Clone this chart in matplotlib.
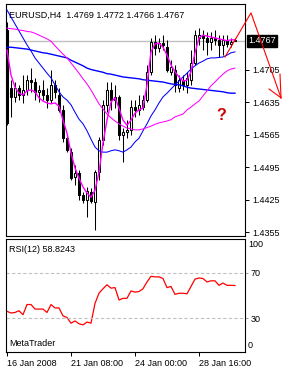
import matplotlib
matplotlib.use("Agg")
import matplotlib.pyplot as plt
import matplotlib.transforms as mtransforms
import numpy as np

plt.rcParams['font.family'] = ['Liberation Sans', 'DejaVu Sans']

# ---- data (H4 bars) ----
title = "EURUSD,H4  1.4769 1.4772 1.4766 1.4767"
last_price = 1.4767

opens = [1.4790, 1.4665, 1.4646, 1.4665, 1.4650, 1.4661, 1.4682, 1.4678, 1.4657, 1.4661,
         1.4650, 1.4639, 1.4672, 1.4650, 1.4618, 1.4557, 1.4527, 1.4473, 1.4482, 1.4435,
         1.4424, 1.4441, 1.4420, 1.4484, 1.4553, 1.4629, 1.4661, 1.4639, 1.4646, 1.4564,
         1.4570, 1.4575, 1.4624, 1.4618, 1.4624, 1.4639, 1.4700, 1.4764, 1.4751, 1.4762,
         1.4753, 1.4700, 1.4704, 1.4665, 1.4682, 1.4672, 1.4682, 1.4719, 1.4773, 1.4779,
         1.4773, 1.4764, 1.4773, 1.4769, 1.4758, 1.4769, 1.4760, 1.4769]
highs = [1.4807, 1.4682, 1.4678, 1.4672, 1.4693, 1.4693, 1.4708, 1.4687, 1.4672, 1.4682,
         1.4665, 1.4704, 1.4682, 1.4665, 1.4629, 1.4564, 1.4536, 1.4499, 1.4489, 1.4441,
         1.4452, 1.4450, 1.4489, 1.4560, 1.4639, 1.4678, 1.4678, 1.4672, 1.4650, 1.4579,
         1.4596, 1.4639, 1.4639, 1.4650, 1.4650, 1.4715, 1.4773, 1.4779, 1.4773, 1.4779,
         1.4769, 1.4725, 1.4715, 1.4693, 1.4693, 1.4700, 1.4747, 1.4790, 1.4794, 1.4790,
         1.4786, 1.4786, 1.4790, 1.4779, 1.4779, 1.4779, 1.4773, 1.4772]
lows = [1.4585, 1.4603, 1.4635, 1.4639, 1.4633, 1.4650, 1.4657, 1.4639, 1.4635, 1.4639,
        1.4622, 1.4633, 1.4644, 1.4613, 1.4549, 1.4527, 1.4467, 1.4456, 1.4424, 1.4417,
        1.4387, 1.4417, 1.4359, 1.4467, 1.4542, 1.4613, 1.4618, 1.4622, 1.4553, 1.4506,
        1.4557, 1.4564, 1.4603, 1.4607, 1.4618, 1.4635, 1.4693, 1.4736, 1.4743, 1.4747,
        1.4700, 1.4693, 1.4657, 1.4657, 1.4661, 1.4654, 1.4672, 1.4715, 1.4758, 1.4747,
        1.4736, 1.4747, 1.4758, 1.4732, 1.4736, 1.4753, 1.4753, 1.4766]
closes = [1.4590, 1.4646, 1.4665, 1.4650, 1.4661, 1.4682, 1.4678, 1.4657, 1.4661, 1.4650,
          1.4639, 1.4672, 1.4657, 1.4618, 1.4557, 1.4532, 1.4471, 1.4482, 1.4435, 1.4424,
          1.4443, 1.4422, 1.4484, 1.4553, 1.4629, 1.4661, 1.4639, 1.4646, 1.4564, 1.4570,
          1.4575, 1.4624, 1.4618, 1.4629, 1.4639, 1.4700, 1.4764, 1.4751, 1.4762, 1.4758,
          1.4704, 1.4710, 1.4672, 1.4682, 1.4672, 1.4687, 1.4719, 1.4779, 1.4779, 1.4773,
          1.4764, 1.4773, 1.4769, 1.4758, 1.4769, 1.4760, 1.4764, 1.4767]

ma_fast = [1.4747, 1.4693, 1.4667, 1.4654, 1.4650, 1.4659, 1.4661, 1.4657, 1.4644, 1.4637,
           1.4633, 1.4631, 1.4633, 1.4626, 1.4596, 1.4568, 1.4525, 1.4493, 1.4471, 1.4452,
           1.4439, 1.4430, 1.4445, 1.4484, 1.4547, 1.4596, 1.4635, 1.4644, 1.4622, 1.4596,
           1.4585, 1.4596, 1.4611, 1.4618, 1.4622, 1.4672, 1.4743, 1.4760, 1.4762, 1.4753,
           1.4736, 1.4715, 1.4700, 1.4689, 1.4680, 1.4682, 1.4700, 1.4741, 1.4773, 1.4779,
           1.4777, 1.4775, 1.4773, 1.4771, 1.4769, 1.4767, 1.4769, 1.4769]
ma_slow = [1.4794, 1.4793, 1.4792, 1.4790, 1.4789, 1.4787, 1.4786, 1.4783, 1.4779, 1.4775,
           1.4771, 1.4766, 1.4756, 1.4747, 1.4738, 1.4730, 1.4719, 1.4708, 1.4697, 1.4685,
           1.4674, 1.4661, 1.4646, 1.4631, 1.4620, 1.4609, 1.4601, 1.4594, 1.4588, 1.4583,
           1.4579, 1.4577, 1.4575, 1.4575, 1.4577, 1.4580, 1.4583, 1.4587, 1.4590, 1.4592,
           1.4594, 1.4597, 1.4603, 1.4606, 1.4609, 1.4618, 1.4624, 1.4631, 1.4637, 1.4648,
           1.4659, 1.4670, 1.4678, 1.4687, 1.4695, 1.4702, 1.4706, 1.4708]
ma_mid = [1.4833, 1.4818, 1.4803, 1.4788, 1.4773, 1.4758, 1.4745, 1.4730, 1.4719, 1.4708,
          1.4697, 1.4687, 1.4672, 1.4657, 1.4646, 1.4639, 1.4629, 1.4613, 1.4598, 1.4588,
          1.4573, 1.4555, 1.4538, 1.4530, 1.4527, 1.4527, 1.4530, 1.4532, 1.4530, 1.4527,
          1.4532, 1.4538, 1.4549, 1.4557, 1.4573, 1.4588, 1.4605, 1.4618, 1.4633, 1.4646,
          1.4654, 1.4663, 1.4672, 1.4680, 1.4689, 1.4697, 1.4706, 1.4713, 1.4719, 1.4723,
          1.4728, 1.4730, 1.4730, 1.4731, 1.4732, 1.4736, 1.4741, 1.4743]
ma_long = [1.4753, 1.4753, 1.4752, 1.4751, 1.4750, 1.4749, 1.4747, 1.4745, 1.4743, 1.4741,
           1.4740, 1.4738, 1.4736, 1.4734, 1.4732, 1.4730, 1.4725, 1.4721, 1.4717, 1.4713,
           1.4708, 1.4705, 1.4703, 1.4701, 1.4699, 1.4696, 1.4695, 1.4693, 1.4691, 1.4689,
           1.4688, 1.4687, 1.4686, 1.4685, 1.4683, 1.4682, 1.4681, 1.4680, 1.4679, 1.4678,
           1.4676, 1.4674, 1.4673, 1.4672, 1.4670, 1.4667, 1.4665, 1.4664, 1.4663, 1.4662,
           1.4661, 1.4660, 1.4659, 1.4658, 1.4657, 1.4655, 1.4654, 1.4654]

rsi = [36, 34.5, 35, 36.5, 33, 42, 42, 38, 38, 38,
       35, 42, 39, 39, 32, 30.5, 25.5, 27.5, 25, 24,
       26.5, 25.5, 43, 52, 56, 59.5, 56.5, 57, 46, 47.5,
       47.5, 54, 53, 53.5, 56, 62, 67, 66.5, 66.5, 65,
       57, 58, 51, 52, 52, 51.5, 58, 64.5, 65.5, 65,
       62, 63, 63, 59, 61, 59, 59, 58.8243]
rsi_label = "RSI(12) 58.8243"
rsi_levels = [30, 70]

price_ticks = [1.4705, 1.4635, 1.4565, 1.4495, 1.4425, 1.4355]
date_ticks = [0, 16, 32, 48]
date_labels = ["16 Jan 2008", "21 Jan 08:00", "24 Jan 00:00", "28 Jan 16:00"]

# hand drawn arrow (bar index, price)
arrow_x = [54.5, 61, 68.5]
arrow_y = [1.4732, 1.4827, 1.4644]
head_x = [65.5, 68.5, 68.25]
head_y = [1.4663, 1.4644, 1.4695]
question_pos = (53.5, 1.4605)

# ---- figure ----
fig = plt.figure(figsize=(2.9, 3.72), dpi=100)
W, H = 290.0, 372.0
ax = fig.add_axes([6 / W, 1 - 236 / H, 239 / W, 232 / H])
ax2 = fig.add_axes([6 / W, 1 - 352 / H, 239 / W, 113 / H])

o = np.array(opens); h = np.array(highs); l = np.array(lows); c = np.array(closes)
x = np.arange(len(c))
up = c >= o

ax.axhline(last_price, color='#c0c0c0', lw=1, zorder=1)
ax.vlines(x, l, h, color='black', lw=0.75, zorder=2)
body = np.maximum(np.abs(c - o), 0.00004)
ax.bar(x, body, bottom=np.minimum(o, c), width=0.5,
       color=np.where(up, 'white', 'black'), edgecolor='black', linewidth=0.75, zorder=3)

ax.plot(np.arange(len(ma_long)), ma_long, color='#0000ff', lw=1.0, zorder=4)
ax.plot(np.arange(len(ma_mid)), ma_mid, color='#0000ff', lw=0.75, zorder=4)
ax.plot(np.arange(len(ma_slow)), ma_slow, color='#ff00ff', lw=0.75, zorder=4)
ax.plot(np.arange(len(ma_fast)), ma_fast, color='#ff00ff', lw=1.0, zorder=4)

ax.plot(arrow_x, arrow_y, color='red', lw=0.8, clip_on=False, zorder=6)
ax.plot(head_x[:2], head_y[:2], color='red', lw=0.8, clip_on=False, zorder=6)
ax.plot(head_x[1:], head_y[1:], color='red', lw=0.8, clip_on=False, zorder=6)
ax.text(question_pos[0], question_pos[1], "?", color='#cc0000', fontsize=11.5,
        fontweight='bold', ha='center', va='center', zorder=6)

ax.set_xlim(-0.25, 59.5)
ax.set_ylim(1.43464, 1.48461)
ax.set_xticks([])
ax.yaxis.tick_right()
ax.set_yticks(price_ticks)
ax.set_yticklabels(["%.4f" % p for p in price_ticks])
ax.tick_params(axis='y', direction='out', length=3, width=0.7, pad=2, labelsize=6.5)
for s in ax.spines.values():
    s.set_linewidth(0.8)

ax.text(3 / 239, 1 - 11 / 232, title, transform=ax.transAxes, fontsize=6.5,
        ha='left', va='center')
tr = mtransforms.blended_transform_factory(ax.transAxes, ax.transData)
ax.text(1.012, last_price, "%.4f" % last_price, transform=tr, color='white',
        fontsize=6.5, ha='left', va='center',
        bbox=dict(boxstyle='square,pad=0.15', fc='black', ec='black'))

# ---- RSI ----
ax2.plot(np.arange(len(rsi)), rsi, color='#ff0000', lw=0.9)
for lv in rsi_levels:
    ax2.axhline(lv, color='#c0c0c0', lw=0.8, ls=(0, (3, 2)))
ax2.set_xlim(-0.25, 59.5)
ax2.set_ylim(0, 100)
ax2.yaxis.tick_right()
ax2.set_yticks(rsi_levels)
ax2.set_yticklabels([str(v) for v in rsi_levels])
ax2.tick_params(axis='y', direction='out', length=2, width=0.7, colors='#a0a0a0',
                labelcolor='black', pad=2, labelsize=6.5)
tr2 = mtransforms.blended_transform_factory(ax2.transAxes, ax2.transData)
ax2.text(1.013, 95, "100", transform=tr2, fontsize=6.5, ha='left', va='center')
ax2.text(1.013, 6, "0", transform=tr2, fontsize=6.5, ha='left', va='center')
ax2.set_xticks(date_ticks)
ax2.set_xticklabels(date_labels, ha='left')
ax2.tick_params(axis='x', direction='out', length=3, width=0.7, pad=2, labelsize=6.5)
for s in ax2.spines.values():
    s.set_linewidth(0.8)
ax2.text(3 / 239, 1 - 10 / 113, rsi_label, transform=ax2.transAxes, fontsize=6.5,
         ha='left', va='center')
ax2.text(3 / 239, 9 / 113, "MetaTrader", transform=ax2.transAxes, fontsize=6.5,
         ha='left', va='center')

fig.savefig("out.png", dpi=100)
